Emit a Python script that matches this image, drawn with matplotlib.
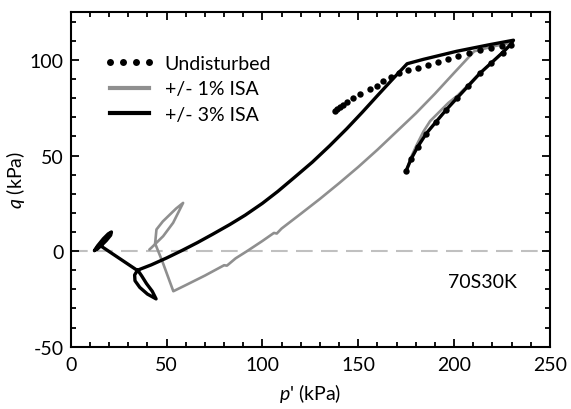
import matplotlib
matplotlib.use('Agg')
import matplotlib.pyplot as plt
from matplotlib.lines import Line2D
from matplotlib.ticker import MultipleLocator

plt.rcParams['font.family'] = ['Lato', 'DejaVu Sans']
plt.rcParams['mathtext.fontset'] = 'custom'
plt.rcParams['mathtext.rm'] = 'Lato'
plt.rcParams['mathtext.it'] = 'Lato:italic'
plt.rcParams['axes.unicode_minus'] = False

# 未扰动试样 (p', q)
p_und = [175, 177.5, 181, 185.5, 190.5, 196, 201.5, 207.5, 213.5, 219.5, 225.5, 229.5,
         225, 219.5, 213.5, 208, 202, 197, 191.5, 186.5, 181, 176, 171.5, 167, 163,
         160, 156, 151, 147.5, 144, 142, 140.5, 139, 138]
q_und = [42, 48, 54.5, 61.5, 67.5, 74, 80, 86.5, 93, 98.5, 103.5, 108,
         107.5, 106.3, 105, 103.5, 102, 100.5, 99, 97.5, 96, 94.8, 93, 91, 88.8,
         86.6, 84.7, 82.2, 80, 77.8, 76.5, 75.5, 74.5, 73.5]

# +/- 1% ISA
p_isa1 = [175.5, 177.5, 180.5, 184, 187.5, 192, 197, 202, 208, 214, 220, 226, 230,
          220, 210.5, 200, 190, 180, 170, 160, 150, 140, 130, 120, 110, 107.5, 106,
          100, 92, 86, 81.5, 80, 70, 60, 53.5,
          48, 44, 44.7, 48, 51.7, 55, 58.6, 56, 53.4, 48.2, 42.1, 41]
q_isa1 = [43, 49, 55.5, 62.5, 68, 72.5, 77.5, 81.5, 87.5, 93.5, 99, 104.5, 109,
          107, 104.5, 93.2, 82.3, 72, 62.5, 53, 44, 35.5, 27.3, 19.5, 11.8, 9.2, 9.5,
          5.3, 0, -3.8, -7.6, -7.4, -12.8, -17.8, -21,
          -6, 4, 11.3, 15.5, 19.1, 22.3, 25.2, 20, 14.8, 7.8, 1.8, 0.8]

# +/- 3% ISA
p_isa3 = [175, 177.5, 181, 185.5, 190.5, 196, 201.5, 207.5, 213.5, 219.5, 225.5, 229.5, 231,
          218.7, 201.3, 184, 175.5, 168, 160, 152, 144, 135, 126, 117, 108,
          100, 91, 83, 74, 66, 58, 50, 42, 34.8,
          33.3, 33.5, 36, 40, 44.5, 42.5, 39.5, 37, 35.3,
          15.5, 13.5, 12.3, 14, 17, 19.5, 21.2, 20.8, 18.5, 16, 13.5]
q_isa3 = [42, 48, 54.5, 61.5, 67.5, 74, 80, 86.5, 93, 98.5, 104, 108, 110.3,
          108, 104.5, 100.3, 98, 90, 81.3, 72.5, 64, 55, 46.5, 38.8, 31.2,
          25, 18.8, 13.9, 8.8, 4.4, 0.3, -3.6, -7.2, -10,
          -12.5, -15.5, -19, -22.5, -25, -21, -17, -13, -10.5,
          2.8, 1.5, 0.2, 2.8, 6.5, 9, 10, 8.3, 5.5, 3, 0.8]

gray = '#8f8f8f'

fig = plt.figure(figsize=(5.71, 4.10), dpi=100)
ax = fig.add_axes([0.124, 0.152, 0.839, 0.816])

ax.axhline(0, color='#c0c0c0', lw=1.5, ls=(0, (8, 4)), zorder=1)
ax.plot(p_isa1, q_isa1, color=gray, lw=1.9, solid_joinstyle='round',
        solid_capstyle='round', zorder=2)
ax.plot(p_isa3, q_isa3, color='black', lw=2.4, solid_joinstyle='round',
        solid_capstyle='round', zorder=3)
ax.plot(p_und, q_und, 'o', color='black', ms=4.6, mew=0, zorder=4)

ax.text(215, -16, '70S30K', fontsize=14, ha='center', va='center')

ax.set_xlim(0, 250)
ax.set_ylim(-50, 125)
ax.xaxis.set_major_locator(MultipleLocator(50))
ax.xaxis.set_minor_locator(MultipleLocator(10))
ax.yaxis.set_major_locator(MultipleLocator(50))
ax.yaxis.set_minor_locator(MultipleLocator(10))
ax.tick_params(which='both', direction='in', top=True, right=True, width=1.3,
               labelsize=14, pad=5)
ax.tick_params(axis='x', which='both', pad=6.5)
ax.tick_params(which='major', length=6)
ax.tick_params(which='minor', length=3.5)
for s in ax.spines.values():
    s.set_linewidth(1.5)

ax.set_xlabel(r"$\mathit{p}$' (kPa)", fontsize=14, labelpad=6)
ax.set_ylabel(r"$\mathit{q}$ (kPa)", fontsize=14, labelpad=2)

handles = [
    Line2D([], [], ls='none', marker='o', color='black', ms=5, mew=0),
    Line2D([], [], color=gray, lw=3),
    Line2D([], [], color='black', lw=3),
]
ax.legend(handles, ['Undisturbed', '+/- 1% ISA', '+/- 3% ISA'], loc='upper left',
          bbox_to_anchor=(0.07, 0.873), borderaxespad=0, borderpad=0, frameon=False,
          numpoints=4, handlelength=2.6, handletextpad=0.5, labelspacing=0.45,
          fontsize=14)

fig.savefig('out.png', dpi=100)
